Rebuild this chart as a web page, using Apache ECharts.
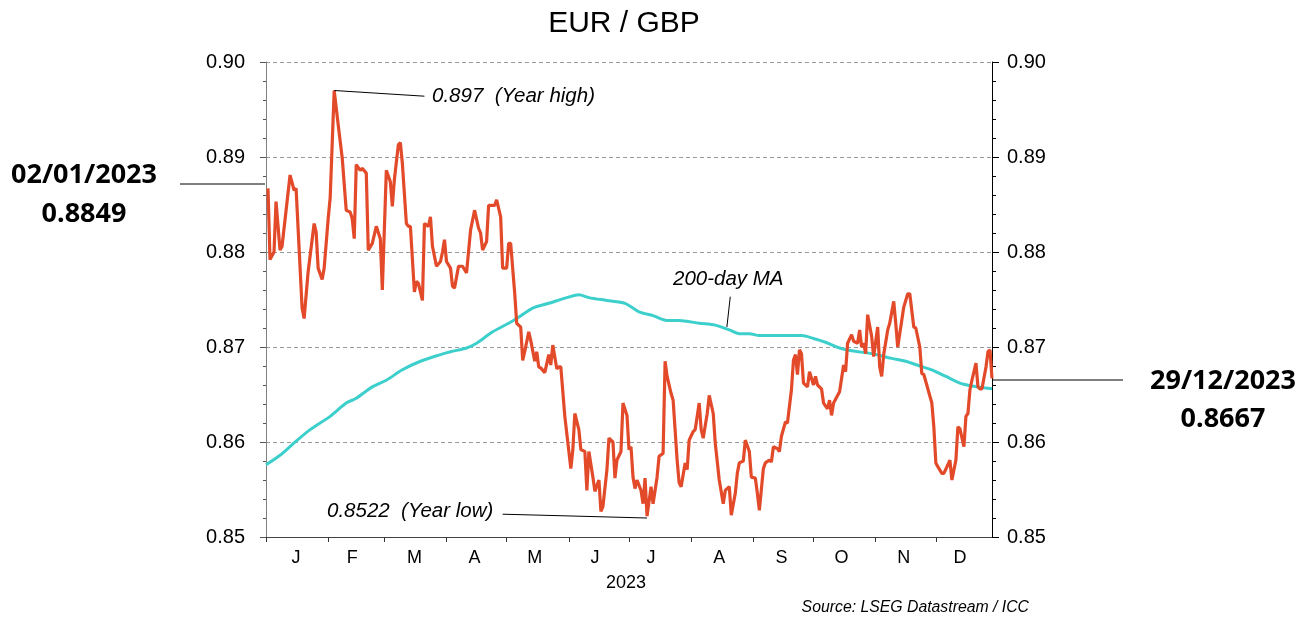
<!DOCTYPE html>
<html>
<head>
<meta charset="utf-8">
<title>EUR / GBP</title>
<script src="https://cdn.jsdelivr.net/npm/echarts@6.0.0/dist/echarts.min.js"></script>
<style>
    html, body { margin: 0; padding: 0; background: #fff; }
    #chart { width: 1311px; height: 618px; }
</style>
</head>
<body>
<div id="chart"></div>
<script>
// day of year (0 = 1 Jan 2023) and EUR/GBP close
var fxDays = [1, 2, 4, 5, 7, 8, 12, 14, 15, 18, 19, 21, 24, 25, 26, 28, 29, 31, 32, 34,
    36, 38, 40, 42, 43, 44, 45, 47, 48, 50, 51, 53, 55, 57, 58, 60, 62, 63, 64, 66,
    67, 68, 70, 71, 72, 74, 75, 76, 78, 79, 81, 82, 83, 85, 87, 88, 89, 90, 92, 93,
    94, 96, 98, 100, 102, 104, 106, 107, 108, 110, 111, 113, 114, 115, 117, 118, 120, 121, 122, 124,
    125, 127, 128, 129, 131, 132, 134, 135, 136, 137, 139, 141, 142, 143, 145, 146, 147, 149, 152, 153,
    154, 156, 157, 159, 160, 161, 163, 164, 166, 167, 168, 170, 171, 173, 174, 175, 177, 178, 180, 181,
    182, 183, 184, 185, 187, 188, 189, 190, 192, 193, 195, 196, 198, 199, 200, 202, 203, 205, 206, 207,
    209, 210, 211, 213, 214, 216, 217, 218, 220, 221, 223, 224, 226, 228, 229, 231, 232, 234, 235, 236,
    238, 239, 241, 242, 244, 245, 246, 248, 249, 251, 252, 253, 255, 256, 257, 259, 260, 262, 263, 264,
    265, 266, 267, 268, 270, 271, 273, 274, 275, 277, 278, 280, 281, 282, 283, 285, 286, 288, 289, 290,
    292, 293, 295, 296, 297, 298, 299, 300, 302, 303, 305, 306, 307, 308, 310, 311, 313, 314, 315, 317,
    318, 320, 321, 323, 324, 326, 327, 328, 330, 332, 333, 334, 335, 337, 338, 340, 341, 342, 344, 345,
    346, 348, 349, 350, 351, 352, 354, 355, 356, 357, 359, 360, 361, 362];
var fxVals = [0.8867, 0.8792, 0.8800, 0.8853, 0.8802, 0.8806, 0.8881, 0.8865, 0.8867, 0.8741, 0.8730, 0.8779, 0.8830, 0.8821, 0.8783, 0.8771, 0.8783, 0.8835, 0.8857, 0.8970,
    0.8934, 0.8899, 0.8844, 0.8842, 0.8835, 0.8814, 0.8892, 0.8886, 0.8888, 0.8883, 0.8802, 0.8809, 0.8827, 0.8814, 0.8760, 0.8886, 0.8874, 0.8848, 0.8876, 0.8913,
    0.8915, 0.8893, 0.8830, 0.8827, 0.8827, 0.8758, 0.8769, 0.8767, 0.8749, 0.8830, 0.8827, 0.8837, 0.8806, 0.8785, 0.8790, 0.8800, 0.8813, 0.8790, 0.8783, 0.8764,
    0.8762, 0.8785, 0.8785, 0.8778, 0.8823, 0.8844, 0.8825, 0.8820, 0.8802, 0.8811, 0.8849, 0.8849, 0.8849, 0.8855, 0.8837, 0.8783, 0.8783, 0.8809, 0.8809, 0.8757,
    0.8725, 0.8721, 0.8686, 0.8695, 0.8716, 0.8707, 0.8685, 0.8695, 0.8679, 0.8678, 0.8673, 0.8692, 0.8681, 0.8702, 0.8677, 0.8679, 0.8679, 0.8627, 0.8572, 0.8592,
    0.8630, 0.8613, 0.8592, 0.8590, 0.8549, 0.8590, 0.8563, 0.8548, 0.8560, 0.8527, 0.8532, 0.8571, 0.8604, 0.8600, 0.8562, 0.8581, 0.8590, 0.8641, 0.8628, 0.8592,
    0.8595, 0.8563, 0.8551, 0.8560, 0.8549, 0.8535, 0.8562, 0.8522, 0.8553, 0.8535, 0.8563, 0.8585, 0.8588, 0.8685, 0.8669, 0.8651, 0.8644, 0.8581, 0.8557, 0.8553,
    0.8578, 0.8571, 0.8602, 0.8611, 0.8613, 0.8641, 0.8613, 0.8604, 0.8630, 0.8649, 0.8630, 0.8599, 0.8560, 0.8535, 0.8549, 0.8553, 0.8523, 0.8546, 0.8567, 0.8578,
    0.8580, 0.8602, 0.8590, 0.8563, 0.8562, 0.8546, 0.8528, 0.8572, 0.8578, 0.8581, 0.8579, 0.8595, 0.8593, 0.8590, 0.8606, 0.8621, 0.8620, 0.8655, 0.8686, 0.8692,
    0.8671, 0.8697, 0.8693, 0.8662, 0.8658, 0.8674, 0.8660, 0.8669, 0.8660, 0.8656, 0.8641, 0.8635, 0.8644, 0.8628, 0.8641, 0.8649, 0.8653, 0.8681, 0.8674, 0.8704,
    0.8713, 0.8706, 0.8704, 0.8718, 0.8700, 0.8704, 0.8693, 0.8734, 0.8711, 0.8690, 0.8721, 0.8679, 0.8669, 0.8692, 0.8718, 0.8725, 0.8748, 0.8725, 0.8700, 0.8728,
    0.8742, 0.8756, 0.8756, 0.8721, 0.8720, 0.8700, 0.8672, 0.8671, 0.8656, 0.8641, 0.8616, 0.8578, 0.8574, 0.8567, 0.8567, 0.8576, 0.8581, 0.8560, 0.8581, 0.8616,
    0.8614, 0.8595, 0.8627, 0.8630, 0.8655, 0.8665, 0.8683, 0.8658, 0.8656, 0.8656, 0.8679, 0.8695, 0.8697, 0.8667];

// 200-day moving average
var maDays = [0, 7, 14, 22, 32, 40, 45, 53, 60, 68, 77, 87, 92, 100, 105, 113, 121, 125, 133, 141,
    150, 156, 161, 170, 179, 186, 193, 200, 206, 216, 224, 231, 236, 241, 246, 261, 267, 273, 279, 286,
    292, 302, 312, 319, 326, 332, 339, 346, 352, 362];
var maVals = [0.8576, 0.8586, 0.8599, 0.8613, 0.8627, 0.8641, 0.8646, 0.8658, 0.8665, 0.8676, 0.8685, 0.8692, 0.8695, 0.8699, 0.8704, 0.8716, 0.8725, 0.8730, 0.8741, 0.8746,
    0.8752, 0.8755, 0.8752, 0.8749, 0.8746, 0.8737, 0.8733, 0.8728, 0.8728, 0.8725, 0.8723, 0.8718, 0.8714, 0.8714, 0.8712, 0.8712, 0.8712, 0.8709, 0.8705, 0.8699,
    0.8696, 0.8693, 0.8688, 0.8685, 0.8680, 0.8676, 0.8669, 0.8662, 0.8659, 0.8656];

var monthStarts = [0, 31, 59, 90, 120, 151, 181, 212, 243, 273, 304, 334];
var monthLabelDays = [15, 43, 74, 104, 134, 164, 192, 226, 257, 287, 318, 346];
var monthLetters = ['J', 'F', 'M', 'A', 'M', 'J', 'J', 'A', 'S', 'O', 'N', 'D'];

var myChart = echarts.init(document.getElementById('chart'));

function pairs(xs, ys) {
    var out = [];
    for (var i = 0; i < xs.length; i++) {
        out.push([xs[i], ys[i]]);
    }
    return out;
}

var yAxisBase = function (pos) {
    return {
        type: 'value',
        position: pos,
        min: 0.85,
        max: 0.90,
        interval: 0.01,
        axisLine: { show: true, lineStyle: { color: pos == 'left' ? '#808080' : '#000', width: 1 } },
        axisTick: { show: true, length: pos == 'left' ? 6 : 7, lineStyle: { color: pos == 'left' ? '#555' : '#000' } },
        minorTick: { show: true, splitNumber: 5, length: pos == 'left' ? 3 : 4, lineStyle: { color: pos == 'left' ? '#555' : '#000' } },
        axisLabel: {
            margin: pos == 'left' ? 21 : 15,
            color: '#000',
            fontFamily: 'Liberation Sans',
            fontSize: 20,
            formatter: function (v) { return v.toFixed(2); }
        },
        splitLine: pos == 'left'
            ? { show: true, lineStyle: { color: '#9a9a9a', type: [4, 3], width: 1 } }
            : { show: false }
    };
};

var italic = 'italic 20.5px "Liberation Sans"';
var bold = 'bold 27px "Noto Sans"';

var option = {
    animation: false,
    backgroundColor: '#fff',
    grid: { left: 266, right: 319, top: 62, bottom: 81 },
    xAxis: {
        type: 'value',
        min: 0,
        max: 362,
        axisLine: { show: true, onZero: false, lineStyle: { color: '#444' } },
        axisTick: { show: true, length: 5, customValues: monthStarts, lineStyle: { color: '#333' } },
        axisLabel: {
            customValues: monthLabelDays,
            margin: 12,
            color: '#000',
            fontFamily: 'Liberation Sans',
            fontSize: 18,
            formatter: function (v) {
                var i = monthLabelDays.indexOf(v);
                return i >= 0 ? monthLetters[i] : '';
            }
        },
        splitLine: { show: false }
    },
    yAxis: [yAxisBase('left'), yAxisBase('right')],
    series: [
        {
            name: '200-day MA',
            type: 'line',
            data: pairs(maDays, maVals),
            showSymbol: false,
            smooth: 0.3,
            lineStyle: { color: '#3ccfcb', width: 3 },
            z: 2
        },
        {
            name: 'EUR / GBP',
            type: 'line',
            data: pairs(fxDays, fxVals),
            showSymbol: false,
            lineStyle: { color: '#e24a2a', width: 3.2 },
            z: 3,
            markLine: {
                silent: true,
                symbol: ['none', 'none'],
                label: { show: false },
                lineStyle: { color: '#000', width: 1, type: 'solid' },
                data: [
                    [{ coord: [34, 0.8970] }, { coord: [79, 0.8964] }],
                    [{ coord: [118, 0.8524] }, { coord: [190, 0.8520] }],
                    [{ coord: [231.5, 0.8753] }, { coord: [229.8, 0.8721] }]
                ]
            }
        }
    ],
    graphic: [
        { type: 'text', style: { text: 'EUR / GBP', x: 624, y: 24, textAlign: 'center', textVerticalAlign: 'middle', font: '30px "Liberation Sans"', fill: '#000' } },
        { type: 'text', style: { text: '0.897  (Year high)', x: 432, y: 96, textAlign: 'left', textVerticalAlign: 'middle', font: italic, fill: '#000' } },
        { type: 'text', style: { text: '0.8522  (Year low)', x: 327, y: 511, textAlign: 'left', textVerticalAlign: 'middle', font: italic, fill: '#000' } },
        { type: 'text', style: { text: '200-day MA', x: 673, y: 279, textAlign: 'left', textVerticalAlign: 'middle', font: italic, fill: '#000' } },
        { type: 'text', style: { text: '2023', x: 626, y: 583, textAlign: 'center', textVerticalAlign: 'middle', font: '18px "Liberation Sans"', fill: '#000' } },
        { type: 'text', style: { text: 'Source: LSEG Datastream / ICC', x: 1029, y: 608, textAlign: 'right', textVerticalAlign: 'middle', font: 'italic 15.8px "Liberation Sans"', fill: '#000' } },
        // left call-out for the first value
        { type: 'line', shape: { x1: 180, y1: 184, x2: 265, y2: 184 }, style: { stroke: '#000', lineWidth: 1 } },
        { type: 'text', style: { text: '02/01/2023', x: 84, y: 175, textAlign: 'center', textVerticalAlign: 'middle', font: bold, fill: '#000' } },
        { type: 'text', style: { text: '0.8849', x: 84, y: 214, textAlign: 'center', textVerticalAlign: 'middle', font: bold, fill: '#000' } },
        // right call-out for the last value
        { type: 'line', shape: { x1: 993, y1: 380, x2: 1123, y2: 380 }, style: { stroke: '#000', lineWidth: 1 } },
        { type: 'text', style: { text: '29/12/2023', x: 1223, y: 381, textAlign: 'center', textVerticalAlign: 'middle', font: bold, fill: '#000' } },
        { type: 'text', style: { text: '0.8667', x: 1223, y: 419, textAlign: 'center', textVerticalAlign: 'middle', font: bold, fill: '#000' } }
    ]
};

myChart.setOption(option);
</script>
</body>
</html>
